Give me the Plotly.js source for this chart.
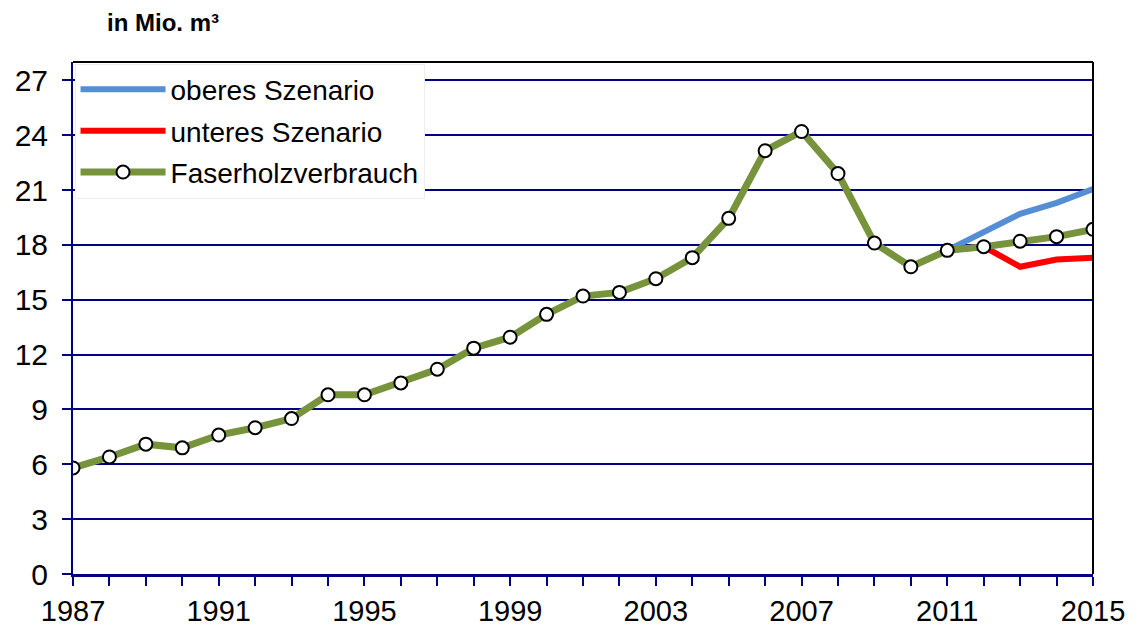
<!DOCTYPE html>
<html>
<head>
<meta charset="utf-8">
<script src="https://cdn.plot.ly/plotly-3.0.1.min.js"></script>
<style>html,body{margin:0;padding:0;background:#fff;}#chart{width:1144px;height:628px;}</style>
</head>
<body>
<div id="chart"></div>
<script>
const years = [1987,1988,1989,1990,1991,1992,1993,1994,1995,1996,1997,1998,1999,2000,2001,2002,2003,2004,2005,2006,2007,2008,2009,2010,2011,2012,2013,2014,2015];
const verbrauch = [5.8,6.4,7.1,6.9,7.6,8.0,8.5,9.8,9.8,10.45,11.2,12.35,12.95,14.2,15.2,15.4,16.15,17.3,19.45,23.15,24.2,21.9,18.1,16.8,17.7,17.9,18.2,18.45,18.85];
const scenYears = [2011,2012,2013,2014,2015];
const oberes = [17.7,18.7,19.7,20.3,21.05];
const unteres = [17.7,17.9,16.8,17.2,17.3];
const xTickVals = years;
const xTickText = years.map(y => ((y-1987)%4===0) ? String(y) : '');
const names = ['oberes Szenario','unteres Szenario','Faserholzverbrauch'];

const traces = [
  {x: scenYears, y: oberes, name: names[0], mode:'lines', legendgroup:'a',
   line:{color:'#558ED5', width:6}},
  {x: scenYears, y: unteres, name: names[1], mode:'lines', legendgroup:'b',
   line:{color:'#FF0000', width:6}},
  {x: years, y: verbrauch, name: names[2], mode:'lines+markers', legendgroup:'c',
   line:{color:'#77933C', width:7},
   marker:{size:13, color:'#FFFFFF', line:{color:'#000000', width:2}}}
];

const layout = {
  width:1144, height:628,
  margin:{l:73, r:51, t:62, b:54},
  paper_bgcolor:'#FFFFFF', plot_bgcolor:'#FFFFFF',
  font:{family:'"Liberation Sans", Arial, sans-serif', color:'#000000'},
  showlegend:true,
  legend:{x:0.0015, y:0.997, xanchor:'left', yanchor:'top',
    bgcolor:'#FFFFFF', bordercolor:'#EEEEEE', borderwidth:1,
    font:{size:28, color:'#000000'}, traceorder:'grouped', tracegroupgap:2,
    itemwidth:85},
  xaxis:{range:[1987,2015], tickmode:'array', tickvals:xTickVals, ticktext:xTickText,
    ticks:'outside', ticklen:9, tickwidth:2, tickcolor:'#000080',
    showgrid:false, zeroline:false, showline:true, linecolor:'#000080', linewidth:3,
    tickfont:{size:29, color:'#000000'}, ticklabelstandoff:0},
  yaxis:{range:[0,28], tickmode:'array', tickvals:[0,3,6,9,12,15,18,21,24,27],
    ticks:'outside', ticklen:9, tickwidth:2, tickcolor:'#000080',
    showgrid:true, gridcolor:'#000080', gridwidth:2, zeroline:false,
    showline:true, linecolor:'#000080', linewidth:2,
    tickfont:{size:30, color:'#000000'}, ticklabelstandoff:8},
  shapes:[
    {type:'line', xref:'paper', yref:'paper', x0:0, x1:1, y0:1, y1:1, line:{color:'#000000', width:2}},
    {type:'line', xref:'paper', yref:'paper', x0:1, x1:1, y0:0, y1:1, line:{color:'#000000', width:2}}
  ],
  annotations:[
    {text:'<b>in Mio. m³</b>', xref:'paper', yref:'paper', x:0.031, y:1, yshift:40,
     xanchor:'left', yanchor:'middle', showarrow:false, font:{size:24, color:'#000000'}}
  ]
};
Plotly.newPlot('chart', traces, layout, {displayModeBar:false, staticPlot:true});
</script>
</body>
</html>
